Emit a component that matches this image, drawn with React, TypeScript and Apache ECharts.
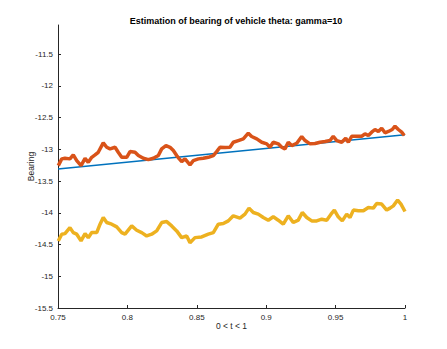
import React, { useEffect, useRef } from "react";
import * as echarts from "echarts";

const titleText = "Estimation of bearing of vehicle theta: gamma=10";
const xName = "0 < t < 1";
const yName = "Bearing";
const yTicks = [-15.5, -15, -14.5, -14, -13.5, -13, -12.5, -12, -11.5];
const xTicks = [0.75, 0.8, 0.85, 0.9, 0.95, 1];

const trueT = [0.75, 1.0];
const trueY = [-13.31, -12.77];

const estT = [
  0.7502, 0.7527, 0.755, 0.7586, 0.761, 0.7635, 0.7666, 0.7695, 0.7718, 0.7743,
  0.7767, 0.779, 0.7826, 0.7851, 0.7875, 0.7911, 0.7934, 0.7959, 0.7995, 0.8019,
  0.8055, 0.8079, 0.8115, 0.8151, 0.8187, 0.8223, 0.8247, 0.8278, 0.8307, 0.8331,
  0.8355, 0.8374, 0.8391, 0.8415, 0.8451, 0.8475, 0.8511, 0.8547, 0.8583, 0.8619,
  0.8643, 0.8667, 0.8703, 0.8739, 0.8763, 0.8799, 0.8835, 0.8871, 0.8895, 0.8932,
  0.8968, 0.9004, 0.9027, 0.9051, 0.9087, 0.9112, 0.9135, 0.9159, 0.9184, 0.922,
  0.9256, 0.928, 0.9316, 0.9352, 0.9388, 0.9424, 0.946, 0.9483, 0.9508, 0.9544,
  0.9573, 0.9592, 0.9616, 0.9652, 0.9688, 0.9712, 0.9736, 0.976, 0.9784, 0.9808,
  0.9832, 0.9856, 0.988, 0.9908, 0.9928, 0.9952, 0.9976, 0.9995,
];
const estY = [
  -13.256, -13.15, -13.141, -13.15, -13.087, -13.177, -13.256, -13.141, -13.204, -13.125,
  -13.087, -13.046, -12.897, -12.967, -12.992, -12.967, -13.046, -13.125, -13.125, -13.035,
  -13.046, -13.098, -13.141, -13.161, -13.141, -13.098, -12.992, -12.94, -12.967, -13.019,
  -13.098, -13.15, -13.193, -13.15, -13.245, -13.177, -13.15, -13.141, -13.125, -13.098,
  -13.035, -12.967, -12.971, -12.967, -12.888, -12.861, -12.834, -12.745, -12.797, -12.834,
  -12.888, -12.913, -12.967, -12.888, -12.913, -12.967, -12.992, -12.888, -12.94, -12.903,
  -12.797, -12.861, -12.913, -12.908, -12.888, -12.877, -12.861, -12.793, -12.861, -12.888,
  -12.824, -12.888, -12.793, -12.793, -12.793, -12.755, -12.782, -12.729, -12.687, -12.718,
  -12.666, -12.739, -12.718, -12.687, -12.634, -12.687, -12.729, -12.782,
];

const est2T = [
  0.7502, 0.7527, 0.755, 0.7586, 0.761, 0.7635, 0.7666, 0.7695, 0.7718, 0.7743,
  0.7779, 0.7803, 0.7826, 0.7851, 0.7887, 0.7923, 0.7959, 0.7983, 0.8031, 0.8067,
  0.8103, 0.8139, 0.8175, 0.8211, 0.8247, 0.8283, 0.8319, 0.8355, 0.8391, 0.8427,
  0.8451, 0.8487, 0.8535, 0.8583, 0.8619, 0.8655, 0.8691, 0.8727, 0.8763, 0.8811,
  0.8847, 0.8876, 0.8907, 0.8943, 0.8979, 0.9015, 0.9051, 0.9087, 0.9123, 0.9159,
  0.9195, 0.9231, 0.926, 0.9292, 0.9328, 0.9364, 0.94, 0.9436, 0.9467, 0.9491,
  0.9519, 0.9548, 0.958, 0.9604, 0.9628, 0.9664, 0.97, 0.9736, 0.9772, 0.9796,
  0.9832, 0.9868, 0.9892, 0.9916, 0.9947, 0.9971, 1.0,
];
const est2Y = [
  -14.443, -14.337, -14.328, -14.233, -14.312, -14.337, -14.443, -14.328, -14.391, -14.312,
  -14.312, -14.179, -14.074, -14.153, -14.179, -14.222, -14.312, -14.337, -14.206, -14.274,
  -14.312, -14.364, -14.337, -14.285, -14.153, -14.138, -14.206, -14.285, -14.391, -14.364,
  -14.47, -14.391, -14.38, -14.337, -14.312, -14.179, -14.169, -14.127, -14.047, -14.084,
  -14.021, -13.926, -13.995, -14.021, -14.074, -14.116, -14.063, -14.116, -14.179, -14.047,
  -14.153, -14.116, -13.995, -14.074, -14.127, -14.127, -14.1, -14.116, -14.021, -13.957,
  -14.063, -14.127, -14.021, -14.074, -13.957, -13.968, -13.968, -13.916, -13.926, -13.853,
  -13.862, -13.957, -13.926, -13.89, -13.799, -13.862, -13.979,
];

const zip = (a: number[], b: number[]) => a.map((v, i) => [v, b[i]]);

const FONT = "'Liberation Sans', Arial, Helvetica, sans-serif";
const AX = "#262626";

export default function App() {
  const ref = useRef<HTMLDivElement>(null);
  useEffect(() => {
    if (!ref.current) return;
    const chart = echarts.init(ref.current, undefined, { renderer: "svg" });
    chart.setOption({
      animation: false,
      backgroundColor: "#ffffff",
      title: {
        text: titleText,
        left: 231,
        textAlign: "center",
        top: 11,
        textStyle: { fontFamily: FONT, fontSize: 9, fontWeight: "bold", color: "#000" },
      },
      grid: { left: 58, right: 42, top: 25, bottom: 41 },
      xAxis: {
        type: "value",
        min: 0.75,
        max: 1,
        interval: 0.05,
        name: xName,
        nameLocation: "middle",
        nameGap: 13,
        nameMoveOverlap: false,
        nameTextStyle: { fontFamily: FONT, fontSize: 8.5, color: AX },
        axisLine: { show: true, lineStyle: { color: AX, width: 1 } },
        axisTick: { show: true, inside: true, length: 3, customValues: xTicks, lineStyle: { color: AX } },
        axisLabel: { fontFamily: FONT, fontSize: 8, color: AX, margin: 5, customValues: xTicks },
        splitLine: { show: false },
      },
      yAxis: {
        type: "value",
        min: -15.5,
        max: -11.04,
        interval: 0.5,
        name: yName,
        nameLocation: "middle",
        nameGap: 23,
        nameMoveOverlap: false,
        nameTextStyle: { fontFamily: FONT, fontSize: 8.5, color: AX },
        axisLine: { show: true, lineStyle: { color: AX, width: 1 } },
        axisTick: { show: true, inside: true, length: 3, customValues: yTicks, lineStyle: { color: AX } },
        axisLabel: { fontFamily: FONT, fontSize: 8, color: AX, margin: 5, customValues: yTicks },
        splitLine: { show: false },
      },
      series: [
        {
          type: "line",
          data: zip(trueT, trueY),
          showSymbol: false,
          lineStyle: { color: "#0072BD", width: 1.5 },
        },
        {
          type: "line",
          data: zip(estT, estY),
          showSymbol: false,
          lineStyle: { color: "#D95319", width: 3.5 },
        },
        {
          type: "line",
          data: zip(est2T, est2Y),
          showSymbol: false,
          lineStyle: { color: "#EDB120", width: 3.5 },
        },
      ],
    });
    return () => chart.dispose();
  }, []);
  return (
    <div
      ref={ref}
      style={{ position: "fixed", left: 0, top: 0, width: 447, height: 349, background: "#fff" }}
    />
  );
}
